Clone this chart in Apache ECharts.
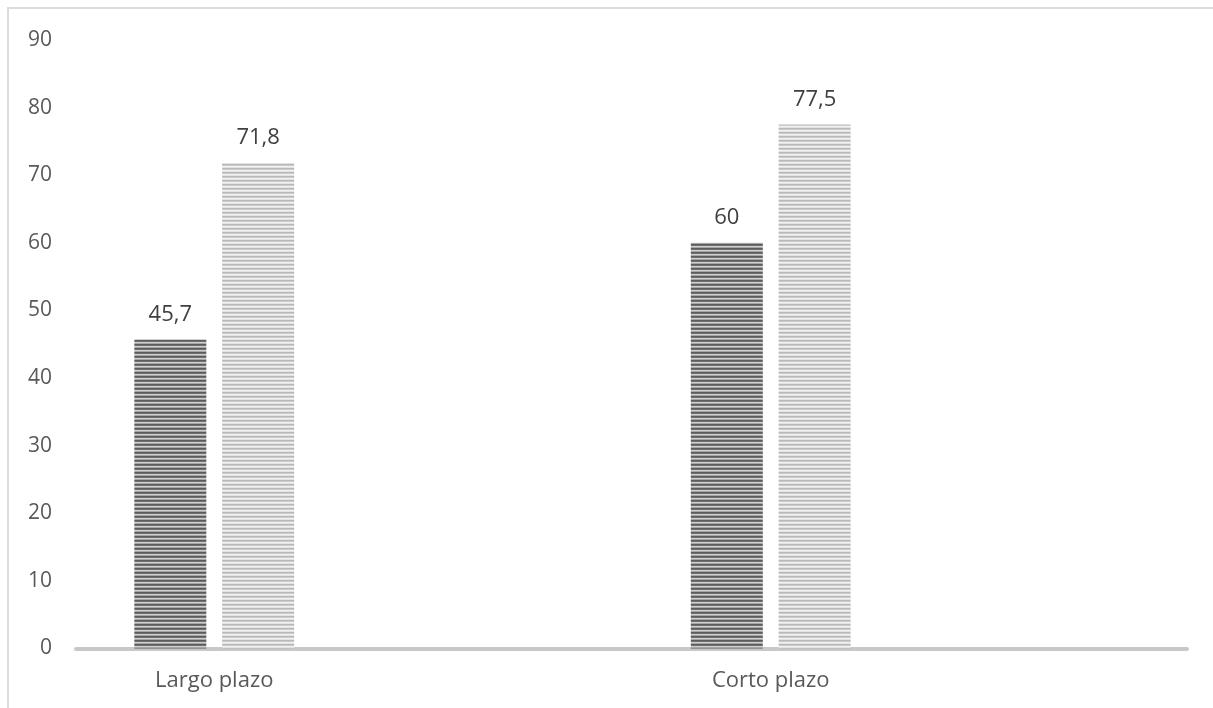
<!DOCTYPE html>
<html>
<head>
<meta charset="utf-8">
<script src="https://cdn.jsdelivr.net/npm/echarts@6/dist/echarts.min.js"></script>
<style>
html,body{margin:0;padding:0;background:#fff;}
#frame{position:absolute;left:7px;top:7px;width:1206px;height:701px;border-left:2px solid #dcdcdc;border-top:2px solid #dcdcdc;box-sizing:border-box;}
#chart{position:absolute;left:0;top:0;width:1213px;height:708px;}
</style>
</head>
<body>
<div id="frame"></div>
<div id="chart"></div>
<script>
const categories = ['Largo plazo', 'Corto plazo'];
const seriesA = [45.7, 60];
const seriesB = [71.8, 77.5];
const yMin = 0, yMax = 90, yStep = 10;

function stripePattern(rows) {
  const c = document.createElement('canvas');
  c.width = 4; c.height = rows.length;
  const ctx = c.getContext('2d');
  rows.forEach((col, i) => { ctx.fillStyle = col; ctx.fillRect(0, i, 4, 1); });
  return { image: c, repeat: 'repeat' };
}
const darkFill = stripePattern(['#5c5c5c', '#707070', '#cfcfcf', '#a6a6a6']);
const lightFill = stripePattern(['#b9b9b9', '#c9c9c9', '#f2f2f2', '#e2e2e2']);

const fmt = p => String(p.value).replace('.', ',');
const font = 'Open Sans';

const chart = echarts.init(document.getElementById('chart'));
chart.setOption({
  animation: false,
  grid: [
    { left: -64, width: 1113, top: 40, bottom: 59.5, outerBoundsMode: 'none', containLabel: false },
    { left: 76, right: 26, top: 40, bottom: 59.5, outerBoundsMode: 'none', containLabel: false }
  ],
  xAxis: [
    { type: 'category', gridIndex: 0, data: categories,
      axisLine: { show: false }, axisTick: { show: false },
      axisLabel: { color: '#595959', fontSize: 22, fontFamily: font, margin: 21 } },
    { type: 'category', gridIndex: 1, data: [''],
      axisLine: { show: true, lineStyle: { color: '#c8c8c8', width: 4 } },
      axisTick: { show: false }, axisLabel: { show: false } }
  ],
  yAxis: [
    { type: 'value', gridIndex: 0, min: yMin, max: yMax, interval: yStep, show: false,
      splitLine: { show: false } },
    { type: 'value', gridIndex: 1, min: yMin, max: yMax, interval: yStep,
      axisLine: { show: false }, axisTick: { show: false }, splitLine: { show: false },
      axisLabel: { color: '#595959', fontSize: 21, fontFamily: font, margin: 24 } }
  ],
  series: [
    { type: 'bar', xAxisIndex: 0, yAxisIndex: 0, data: seriesA, barWidth: 72, barGap: '22%',
      itemStyle: { color: darkFill },
      label: { show: true, position: 'top', distance: 14, color: '#404040', fontSize: 22, fontFamily: font, formatter: fmt } },
    { type: 'bar', xAxisIndex: 0, yAxisIndex: 0, data: seriesB, barWidth: 72,
      itemStyle: { color: lightFill },
      label: { show: true, position: 'top', distance: 14, color: '#404040', fontSize: 22, fontFamily: font, formatter: fmt } }
  ]
});
</script>
</body>
</html>
